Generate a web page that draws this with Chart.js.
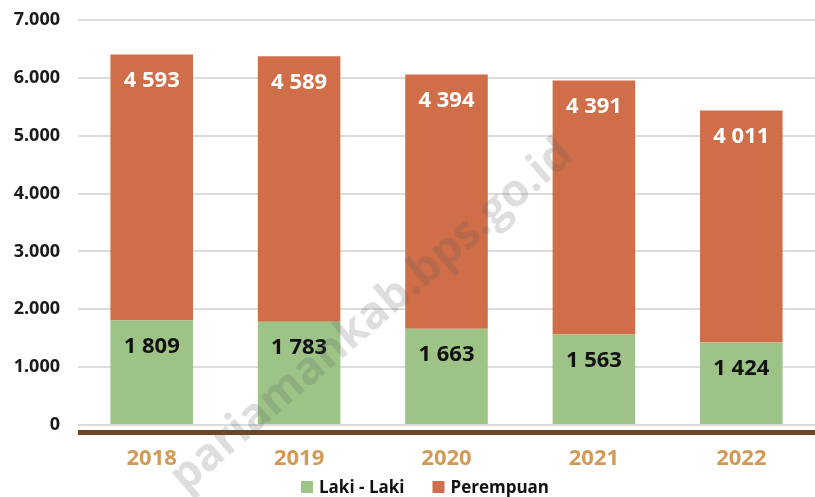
<!DOCTYPE html>
<html>
<head>
<meta charset="utf-8">
<script src="https://cdn.jsdelivr.net/npm/chart.js@4"></script>
<style>
  html, body { margin: 0; padding: 0; background: #fff; }
  #wrap { width: 815px; height: 497px; position: relative; }
</style>
</head>
<body>
<div id="wrap"><canvas id="chart"></canvas></div>
<script>
const years = ['2018', '2019', '2020', '2021', '2022'];
const lakiLaki = [1809, 1783, 1663, 1563, 1424];
const perempuan = [4593, 4589, 4394, 4391, 4011];
const yTicks = [0, 1000, 2000, 3000, 4000, 5000, 6000, 7000];

const fmtLabel = v => String(v).replace(/\B(?=(\d{3})+(?!\d))/g, ' ');
const fmtTick = v => String(v).replace(/\B(?=(\d{3})+(?!\d))/g, '.');

// value labels near the top of each segment
const barLabels = {
    id: 'barLabels',
    afterDatasetsDraw(chart) {
        const ctx = chart.ctx;
        ctx.save();
        ctx.textAlign = 'center';
        ctx.textBaseline = 'middle';
        chart.data.datasets.forEach((ds, i) => {
            const meta = chart.getDatasetMeta(i);
            meta.data.forEach((bar, j) => {
                ctx.font = 'bold 22px "Open Sans"';
                ctx.fillStyle = i === 0 ? '#111111' : '#ffffff';
                ctx.fillText(fmtLabel(ds.data[j]), bar.x, bar.y + 26);
            });
        });
        ctx.restore();
    }
};

// brown base line, legend and watermark
const extras = {
    id: 'extras',
    afterDraw(chart) {
        const ctx = chart.ctx;
        const area = chart.chartArea;
        ctx.save();
        ctx.fillStyle = '#6e4524';
        ctx.fillRect(area.left, area.bottom + 5, chart.width - area.left, 5);

        // legend
        ctx.font = 'bold 17px "Open Sans"';
        ctx.textBaseline = 'middle';
        ctx.textAlign = 'left';
        const items = chart.data.datasets.map(ds => ({ text: ds.label, color: ds.backgroundColor }));
        const box = 12, gap = 6, space = 28;
        const widths = items.map(it => box + gap + ctx.measureText(it.text).width);
        const total = widths.reduce((a, b) => a + b, 0) + space * (items.length - 1);
        let x = 425 - total / 2;
        const y = 487;
        items.forEach((it, k) => {
            ctx.fillStyle = it.color;
            ctx.fillRect(x, y - box / 2, box, box);
            ctx.fillStyle = '#111';
            ctx.fillText(it.text, x + box + gap, y + 1);
            x += widths[k] + space;
        });

        // watermark
        ctx.translate(372, 316);
        ctx.rotate(-0.71);
        ctx.font = 'bold 45px "Open Sans"';
        ctx.fillStyle = 'rgba(90,90,90,0.2)';
        ctx.textAlign = 'center';
        ctx.fillText('pariamankab.bps.go.id', 0, 0);
        ctx.restore();
    }
};

new Chart(document.getElementById('chart'), {
    type: 'bar',
    data: {
        labels: years,
        datasets: [
            {
                label: 'Laki - Laki',
                data: lakiLaki,
                backgroundColor: '#9dc386',
                categoryPercentage: 1,
                barPercentage: 0.56
            },
            {
                label: 'Perempuan',
                data: perempuan,
                backgroundColor: '#cf6e48',
                categoryPercentage: 1,
                barPercentage: 0.56
            }
        ]
    },
    options: {
        responsive: true,
        maintainAspectRatio: false,
        animation: false,
        layout: { padding: { top: 20, right: 0, left: 0, bottom: 26 } },
        plugins: {
            legend: { display: false },
            tooltip: { enabled: false }
        },
        scales: {
            x: {
                stacked: true,
                grid: { display: false, drawTicks: false },
                border: { display: false },
                afterFit(axis) {
                    axis.height = 46;
                },
                ticks: {
                    color: '#d39a55',
                    padding: 21,
                    font: { family: '"Open Sans"', size: 22, weight: 'bold' }
                }
            },
            y: {
                stacked: true,
                min: 0,
                max: 7000,
                afterBuildTicks(axis) {
                    axis.ticks = yTicks.map(v => ({ value: v }));
                },
                afterFit(axis) {
                    axis.width = 78;
                    axis.paddingTop = 0;
                    axis.paddingBottom = 0;
                },
                grid: { color: '#dcdcdc', lineWidth: 2, drawTicks: false },
                border: { display: false },
                ticks: {
                    color: '#1a1a1a',
                    padding: 18,
                    font: { family: '"Open Sans"', size: 18, weight: 'bold' },
                    callback: v => fmtTick(v)
                }
            }
        }
    },
    plugins: [barLabels, extras]
});
</script>
</body>
</html>
